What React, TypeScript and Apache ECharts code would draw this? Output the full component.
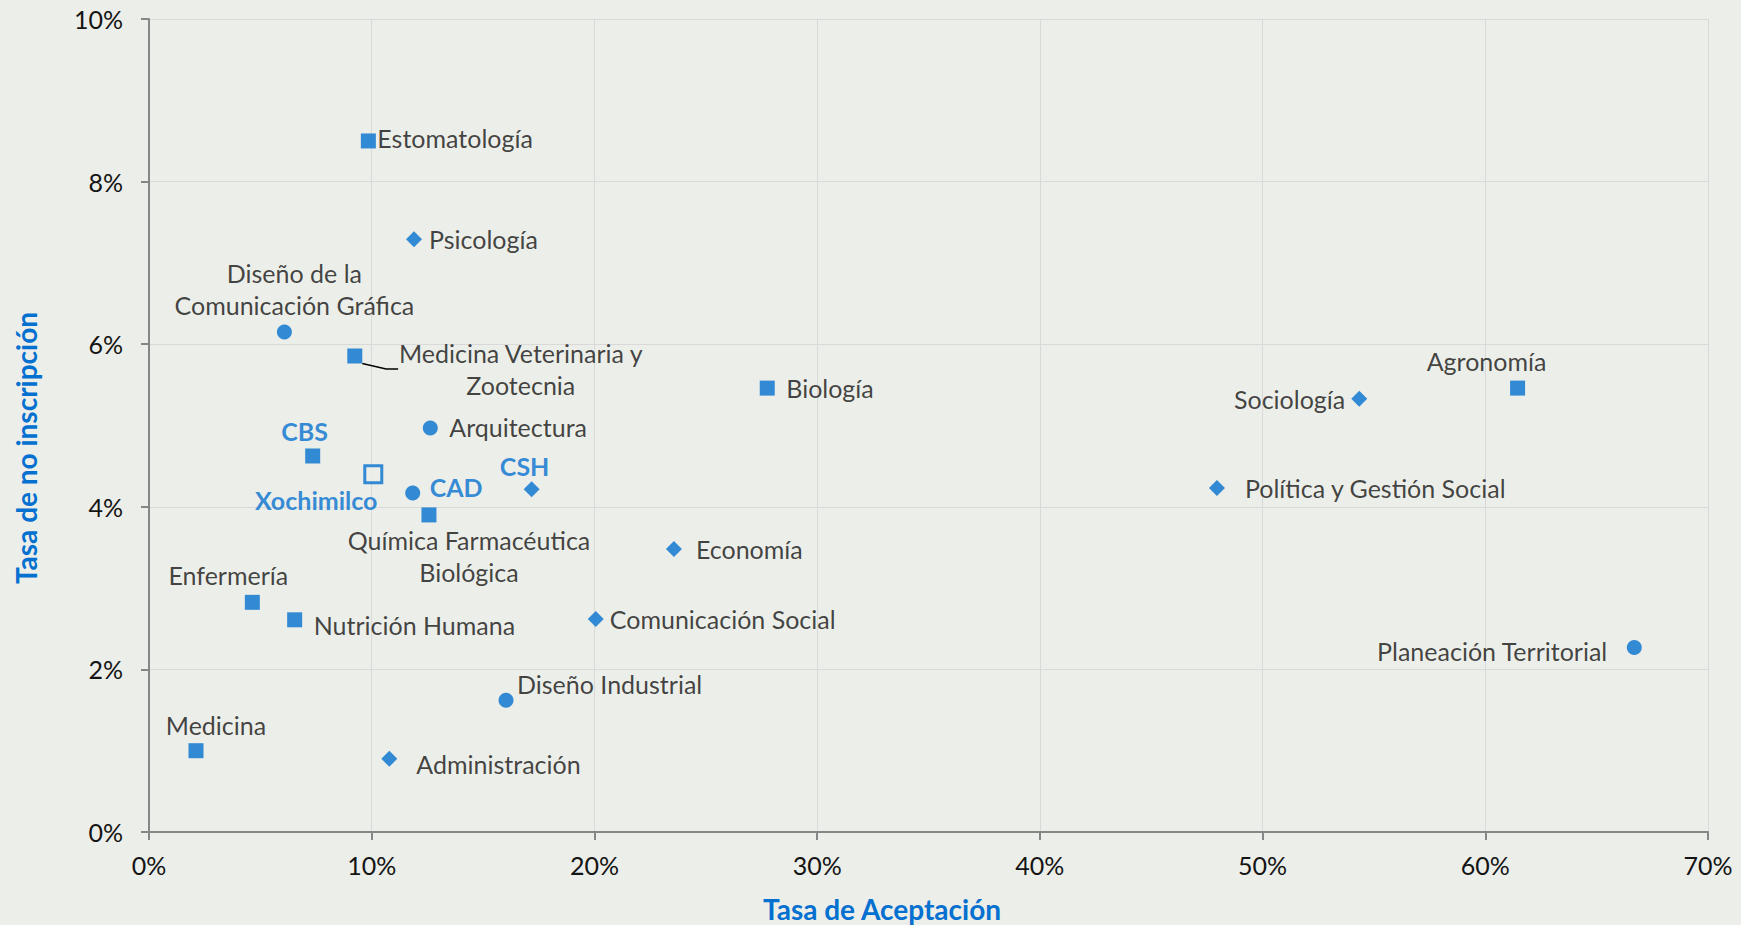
import React, { useEffect, useRef } from 'react';
import * as echarts from 'echarts';

// ---- Data (values in %) ----
const cbsCarreras = ['Estomatología', 'Medicina Veterinaria y\nZootecnia', 'Biología', 'Química Farmacéutica\nBiológica', 'Enfermería', 'Nutrición Humana', 'Medicina', 'Agronomía'];
const cbsAceptacion = [9.85, 9.24, 27.76, 12.57, 4.64, 6.54, 2.11, 61.45];
const cbsNoInscripcion = [8.5, 5.855, 5.46, 3.9, 2.825, 2.61, 1.0, 5.46];

const cadCarreras = ['Diseño de la\nComunicación Gráfica', 'Arquitectura', 'Diseño Industrial', 'Planeación Territorial'];
const cadAceptacion = [6.08, 12.63, 16.03, 66.69];
const cadNoInscripcion = [6.15, 4.97, 1.62, 2.27];

const cshCarreras = ['Psicología', 'Economía', 'Comunicación Social', 'Administración', 'Sociología', 'Política y Gestión Social'];
const cshAceptacion = [11.9, 23.57, 20.06, 10.79, 54.34, 47.95];
const cshNoInscripcion = [7.29, 3.48, 2.62, 0.9, 5.33, 4.23];

const divisiones = ['CBS', 'CAD', 'CSH'];
const divAceptacion = [7.35, 11.84, 17.18];
const divNoInscripcion = [4.625, 4.17, 4.215];

const unidad = ['Xochimilco'];
const unidadAceptacion = [10.07];
const unidadNoInscripcion = [4.4];

const xTicks = [0, 10, 20, 30, 40, 50, 60, 70];
const yTicks = [0, 2, 4, 6, 8, 10];

// ---- Label placement (pixel offsets from marker centre) ----
type Place = { align: 'left' | 'right' | 'center'; dx: number; dy: number };
const placement: Record<string, Place> = {
  'Estomatología': { align: 'left', dx: 9, dy: -3 },
  'Psicología': { align: 'left', dx: 15, dy: 0 },
  'Diseño de la\nComunicación Gráfica': { align: 'center', dx: 10, dy: -43 },
  'Medicina Veterinaria y\nZootecnia': { align: 'center', dx: 166, dy: 13 },
  'Biología': { align: 'left', dx: 19, dy: 0 },
  'Arquitectura': { align: 'left', dx: 19, dy: -1 },
  'CBS': { align: 'center', dx: -8, dy: -25 },
  'Xochimilco': { align: 'center', dx: -57, dy: 26 },
  'CAD': { align: 'left', dx: 17, dy: -6 },
  'CSH': { align: 'center', dx: -7, dy: -23 },
  'Química Farmacéutica\nBiológica': { align: 'center', dx: 40, dy: 41 },
  'Economía': { align: 'left', dx: 22, dy: 0 },
  'Enfermería': { align: 'center', dx: -24, dy: -27 },
  'Nutrición Humana': { align: 'left', dx: 19, dy: 5 },
  'Comunicación Social': { align: 'left', dx: 14, dy: 0 },
  'Diseño Industrial': { align: 'left', dx: 11, dy: -16 },
  'Medicina': { align: 'center', dx: 20, dy: -26 },
  'Administración': { align: 'left', dx: 27, dy: 5 },
  'Sociología': { align: 'right', dx: -14, dy: 0 },
  'Agronomía': { align: 'center', dx: -31, dy: -27 },
  'Política y Gestión Social': { align: 'left', dx: 28, dy: 0 },
  'Planeación Territorial': { align: 'right', dx: -27, dy: 4 },
};

const BLUE = '#0470d0';
const TEXT = '#141414';
const FONT = 'Lato, "Open Sans", sans-serif';
const BG = '#eceee9';

function build(names: string[], xs: number[], ys: number[], bold = false) {
  return names.map((n, i) => {
    const p = placement[n];
    const item: any = {
      name: n,
      value: [xs[i], ys[i]],
      label: {
        show: true,
        position: 'inside',
        formatter: '{b}',
        align: p.align,
        verticalAlign: 'middle',
        offset: [p.dx, p.dy],
        fontSize: 25,
        lineHeight: 32,
        fontFamily: FONT,
        fontWeight: bold ? 'bold' : 'normal',
        color: bold ? BLUE : TEXT,
      },
    };
    if (n.startsWith('Medicina Veterinaria')) {
      item.labelLine = { show: true, length2: 12, lineStyle: { color: '#000', width: 1.5 } };
    }
    return item;
  });
}

export default function App() {
  const ref = useRef<HTMLDivElement>(null);
  useEffect(() => {
    const chart = echarts.init(ref.current!, null, { renderer: 'svg' });
    const base = { type: 'scatter', silent: true, itemStyle: { color: BLUE } };
    const option: any = {
      animation: false,
      backgroundColor: BG,
      grid: { left: 149, top: 19, right: 33, bottom: 93, containLabel: false },
      xAxis: {
        type: 'value',
        min: xTicks[0],
        max: xTicks[xTicks.length - 1],
        interval: 10,
        axisLine: { show: true, lineStyle: { color: '#868686', width: 2 } },
        axisTick: { show: true, length: 8, lineStyle: { color: '#868686', width: 2 } },
        axisLabel: { formatter: (v: number) => `${v}%`, fontSize: 25, fontFamily: FONT, color: TEXT, margin: 20 },
        splitLine: { show: true, lineStyle: { color: '#d9d9d9', width: 1 } },
      },
      yAxis: {
        type: 'value',
        min: yTicks[0],
        max: yTicks[yTicks.length - 1],
        interval: 2,
        axisLine: { show: true, lineStyle: { color: '#868686', width: 2 } },
        axisTick: { show: true, length: 8, lineStyle: { color: '#868686', width: 2 } },
        axisLabel: { formatter: (v: number) => `${v}%`, fontSize: 25, fontFamily: FONT, color: TEXT, margin: 26 },
        splitLine: { show: true, lineStyle: { color: '#d9d9d9', width: 1 } },
      },
      graphic: [
        {
          type: 'text', x: 882, y: 909,
          style: { text: 'Tasa de Aceptación', fill: BLUE, font: `bold 28px ${FONT}`, textAlign: 'center', textVerticalAlign: 'middle' },
        },
        {
          type: 'text', x: 26, y: 448, rotation: Math.PI / 2,
          style: { text: 'Tasa de no inscripción', fill: BLUE, font: `bold 28px ${FONT}`, textAlign: 'center', textVerticalAlign: 'middle' },
        },
      ],
      series: [
        { ...base, name: 'CBS carreras', symbol: 'rect', symbolSize: 15, data: build(cbsCarreras, cbsAceptacion, cbsNoInscripcion) },
        { ...base, name: 'CAD carreras', symbol: 'circle', symbolSize: 15, data: build(cadCarreras, cadAceptacion, cadNoInscripcion) },
        { ...base, name: 'CSH carreras', symbol: 'diamond', symbolSize: 16, data: build(cshCarreras, cshAceptacion, cshNoInscripcion) },
        {
          ...base, name: 'Divisiones',
          symbol: (_v: any, params: any) => ['rect', 'circle', 'diamond'][params.dataIndex],
          symbolSize: (_v: any, params: any) => [15, 15, 16][params.dataIndex],
          data: build(divisiones, divAceptacion, divNoInscripcion, true),
        },
        {
          type: 'scatter', silent: true, name: 'Unidad', symbol: 'rect', symbolSize: 17,
          itemStyle: { color: BG, borderColor: BLUE, borderWidth: 3 },
          data: build(unidad, unidadAceptacion, unidadNoInscripcion, true),
        },
      ],
    };
    chart.setOption(option);
    return () => chart.dispose();
  }, []);
  return <div ref={ref} style={{ position: 'fixed', left: 0, top: 0, width: 1741, height: 925 }} />;
}
